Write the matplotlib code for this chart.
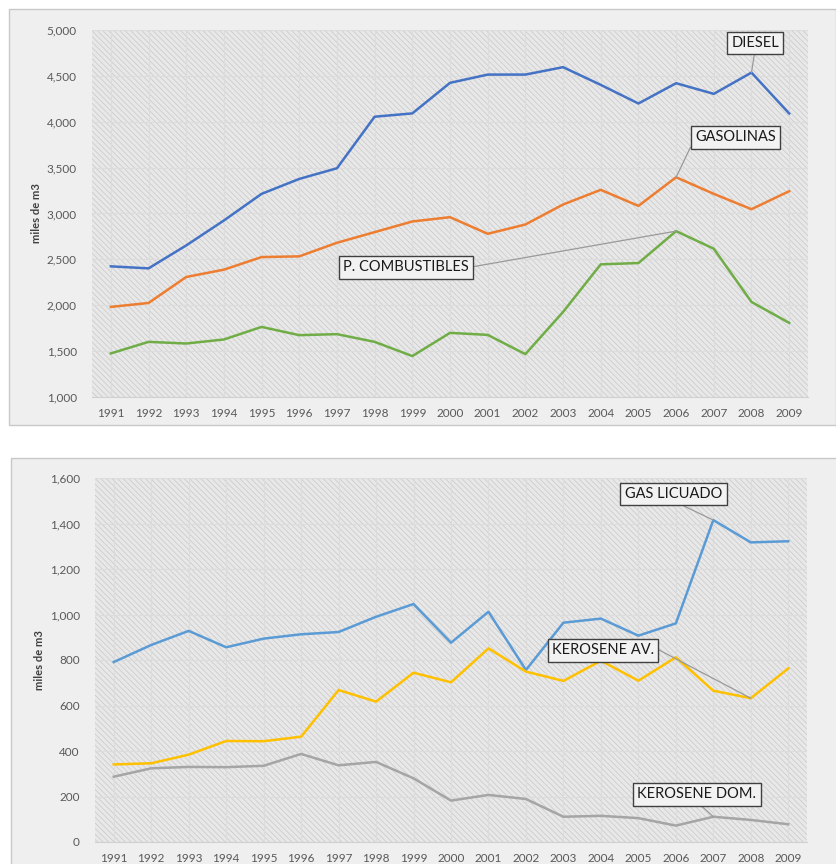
import matplotlib
matplotlib.use("Agg")
import matplotlib.pyplot as plt
from matplotlib.patches import Rectangle
from matplotlib.ticker import FuncFormatter, MultipleLocator

plt.rcParams['font.family'] = ['Lato', 'DejaVu Sans']
plt.rcParams['hatch.linewidth'] = 0.5
plt.rcParams['hatch.color'] = '#c8c8c8'

years = [str(y) for y in range(1991, 2010)]

diesel = [2424, 2402, 2652, 2924, 3214, 3377, 3493, 4055, 4091, 4424,
          4514, 4514, 4595, 4402, 4199, 4420, 4304, 4536, 4090]
gasolinas = [1982, 2025, 2308, 2388, 2525, 2533, 2681, 2797, 2913, 2960,
             2779, 2880, 3098, 3258, 3083, 3395, 3214, 3047, 3243]
combustibles = [1475, 1601, 1583, 1627, 1764, 1674, 1685, 1601, 1446, 1699,
                1677, 1467, 1927, 2446, 2460, 2808, 2616, 2036, 1808]

gas_licuado = [791, 866, 928, 856, 894, 913, 923, 990, 1046, 876,
               1012, 756, 964, 982, 907, 961, 1415, 1317, 1322]
kerosene_av = [341, 346, 384, 444, 443, 463, 668, 617, 744, 702,
               851, 749, 708, 797, 709, 812, 665, 632, 763]
kerosene_dom = [287, 324, 330, 329, 335, 387, 337, 352, 280, 182,
                207, 189, 111, 115, 105, 72, 111, 97, 78]

top_series = [("DIESEL", diesel, '#4472C4'),
              ("GASOLINAS", gasolinas, '#ED7D31'),
              ("P. COMBUSTIBLES", combustibles, '#70AD47')]
bot_series = [("GAS LICUADO", gas_licuado, '#5B9BD5'),
              ("KEROSENE AV.", kerosene_av, '#FFC000'),
              ("KEROSENE DOM.", kerosene_dom, '#A5A5A5')]

W, H = 836, 864
fig = plt.figure(figsize=(W / 100, H / 100), dpi=100)
fig.patch.set_facecolor('white')

def px_rect(x0, y0, x1, y1):
    return [x0 / W, 1 - y1 / H, (x1 - x0) / W, (y1 - y0) / H]

# panel backgrounds
for (x0, y0, x1, y1) in [(9, 9, 836, 425), (11, 458, 838, 870)]:
    r = px_rect(x0, y0, x1, y1)
    fig.patches.append(Rectangle((r[0], r[1]), r[2], r[3], transform=fig.transFigure,
                                 facecolor='#efefef', edgecolor='#c8c8c8', lw=1.0, zorder=-10))

fmt = FuncFormatter(lambda v, p: f"{int(v):,}")

def setup(ax, ymin, ymax, step):
    ax.set_xlim(-0.5, len(years) - 0.5)
    ax.set_ylim(ymin, ymax)
    ax.patch.set_facecolor('#e8e8e8')
    ax.add_patch(Rectangle((0, 0), 1, 1, transform=ax.transAxes, facecolor='none',
                           edgecolor='#c8c8c8', hatch='\\\\\\\\\\\\', lw=0, zorder=0.5))
    ax.yaxis.set_major_locator(MultipleLocator(step))
    ax.yaxis.set_major_formatter(fmt)
    ax.set_xticks(range(len(years)))
    ax.set_xticklabels(years)
    ax.tick_params(axis='both', length=0, labelsize=8.5, colors='#595959')
    ax.tick_params(axis='y', pad=11)
    ax.tick_params(axis='x', pad=8)
    for s in ['top', 'right', 'left']:
        ax.spines[s].set_visible(False)
    ax.spines['bottom'].set_color('#d0d0d0')
    ax.grid(True, color='#dcdcdc', lw=0.8, zorder=1)
    ax.set_axisbelow(True)
    ax.set_ylabel('miles de m3', fontsize=8, fontweight='bold', color='#404040', labelpad=3)

def label(ax, text, xy, xytext, relpos):
    ax.annotate(text, xy=xy, xytext=xytext, textcoords='axes fraction',
                ha='center', va='center', fontsize=10.5, color='#1a1a1a',
                bbox=dict(boxstyle='square,pad=0.3', fc='#f2f2f2', ec='#404040', lw=1.0),
                arrowprops=dict(arrowstyle='-', color='#9a9a9a', lw=0.9,
                                shrinkA=0, shrinkB=0, relpos=relpos),
                zorder=5)

ax1 = fig.add_axes(px_rect(92, 30, 808, 397))
ax1.set_zorder(1)
setup(ax1, 1000, 5000, 500)
for name, vals, col in top_series:
    ax1.plot(range(len(years)), vals, color=col, lw=1.8, zorder=3, solid_joinstyle='round')
label(ax1, "DIESEL", (17, diesel[17]), (0.926, 0.9646), (0.5, 0))
label(ax1, "GASOLINAS", (15, gasolinas[15]), (0.899, 0.708), (0, 0.5))
label(ax1, "P. COMBUSTIBLES", (15, combustibles[15]), (0.4385, 0.353), (1, 0.5))

ax2 = fig.add_axes(px_rect(95, 478, 807, 842))
ax2.set_zorder(1)
setup(ax2, 0, 1600, 200)
for name, vals, col in bot_series:
    ax2.plot(range(len(years)), vals, color=col, lw=1.8, zorder=3, solid_joinstyle='round')
label(ax2, "GAS LICUADO", (16, gas_licuado[16]), (0.8125, 0.956), (0.5, 0))
label(ax2, "KEROSENE AV.", (17, kerosene_av[17]), (0.7135, 0.527), (1, 0.7))
label(ax2, "KEROSENE DOM.", (16, kerosene_dom[16]), (0.845, 0.1305), (0.5, 0))

fig.savefig('out.png', dpi=100)
